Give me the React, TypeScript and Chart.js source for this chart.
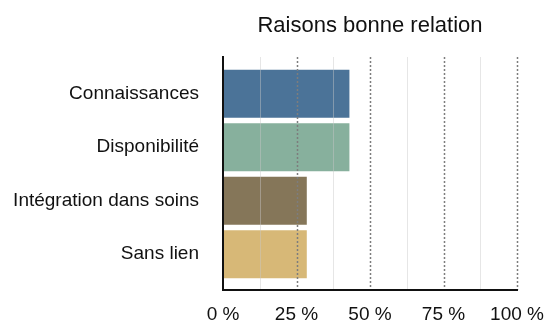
import React, { useEffect, useRef } from "react";
import { Chart, registerables } from "chart.js";

Chart.register(...registerables);

const title = "Raisons bonne relation";
const categories = ["Connaissances", "Disponibilité", "Intégration dans soins", "Sans lien"];
const values = [43, 43, 28.5, 28.5];
const barColors = ["#4b7398", "#87b09d", "#857659", "#d7b877"];

const FONT = "'Liberation Sans', Arial, Helvetica, sans-serif";

// Grid lines and axis lines, drawn over the bars and extending a little beyond the category band.
const gridOverlay = {
  id: "gridOverlay",
  afterDatasetsDraw(chart: any) {
    const { ctx, chartArea, scales } = chart;
    const x = scales.x;
    const top = chartArea.top - 10;
    const bottom = chartArea.bottom + 9;
    ctx.save();
    x.ticks.forEach((t: any) => {
      const v = t.value;
      if (v === 0) return;
      const px = Math.round(x.getPixelForValue(v)) + 0.5;
      ctx.beginPath();
      if (v % 25 === 0) {
        ctx.strokeStyle = "#7d7d7d";
        ctx.lineWidth = 1.5;
        ctx.setLineDash([2, 2]);
      } else {
        ctx.strokeStyle = "rgba(200,200,200,0.45)";
        ctx.lineWidth = 1;
        ctx.setLineDash([]);
      }
      ctx.moveTo(px, top);
      ctx.lineTo(px, bottom);
      ctx.stroke();
    });
    ctx.setLineDash([]);
    ctx.strokeStyle = "#111111";
    ctx.lineWidth = 2;
    const x0 = x.getPixelForValue(0);
    const x1 = x.getPixelForValue(100);
    ctx.beginPath();
    ctx.moveTo(x0, top - 1);
    ctx.lineTo(x0, bottom + 1);
    ctx.moveTo(x0 - 1, bottom);
    ctx.lineTo(x1 + 1, bottom);
    ctx.stroke();
    ctx.restore();
  },
};

// Title centred over the plot area.
const titlePlugin = {
  id: "plotTitle",
  afterDraw(chart: any) {
    const { ctx, chartArea } = chart;
    ctx.save();
    ctx.font = `22px ${FONT}`;
    ctx.fillStyle = "#111111";
    ctx.textAlign = "center";
    ctx.textBaseline = "alphabetic";
    ctx.fillText(title, (chartArea.left + chartArea.right) / 2, 32);
    ctx.restore();
  },
};

export default function App() {
  const canvasRef = useRef<HTMLCanvasElement | null>(null);

  useEffect(() => {
    if (!canvasRef.current) return;
    const chart = new Chart(canvasRef.current, {
      type: "bar",
      data: {
        labels: categories,
        datasets: [
          {
            data: values,
            backgroundColor: barColors,
            borderWidth: 0,
            barPercentage: 0.9,
            categoryPercentage: 1,
          },
        ],
      },
      options: {
        indexAxis: "y",
        animation: false,
        responsive: false,
        layout: { padding: { top: 67, right: 30, left: 0, bottom: 0 } },
        plugins: {
          legend: { display: false },
          tooltip: { enabled: false },
          title: { display: false },
        },
        scales: {
          x: {
            min: 0,
            max: 100,
            grid: { display: false },
            border: { display: false },
            ticks: {
              stepSize: 12.5,
              autoSkip: false,
              maxRotation: 0,
              padding: 14,
              color: "#111111",
              font: { family: FONT, size: 19 },
              callback: (v: any) => (Number(v) % 25 === 0 ? `${v} %` : ""),
            },
            afterFit: (s: any) => {
              s.height = 44;
              s.paddingLeft = 0;
              s.paddingRight = 0;
            },
          },
          y: {
            grid: { display: false, drawTicks: false },
            border: { display: false },
            ticks: {
              padding: 24,
              color: "#111111",
              font: { family: FONT, size: 19 },
            },
            afterFit: (s: any) => {
              s.width = 223;
              s.paddingTop = 0;
              s.paddingBottom = 0;
            },
          },
        },
      },
      plugins: [gridOverlay, titlePlugin],
    });
    return () => chart.destroy();
  }, []);

  return (
    <div style={{ position: "fixed", left: 0, top: 0, width: 547, height: 325, background: "#ffffff" }}>
      <canvas ref={canvasRef} width={547} height={325} />
    </div>
  );
}
